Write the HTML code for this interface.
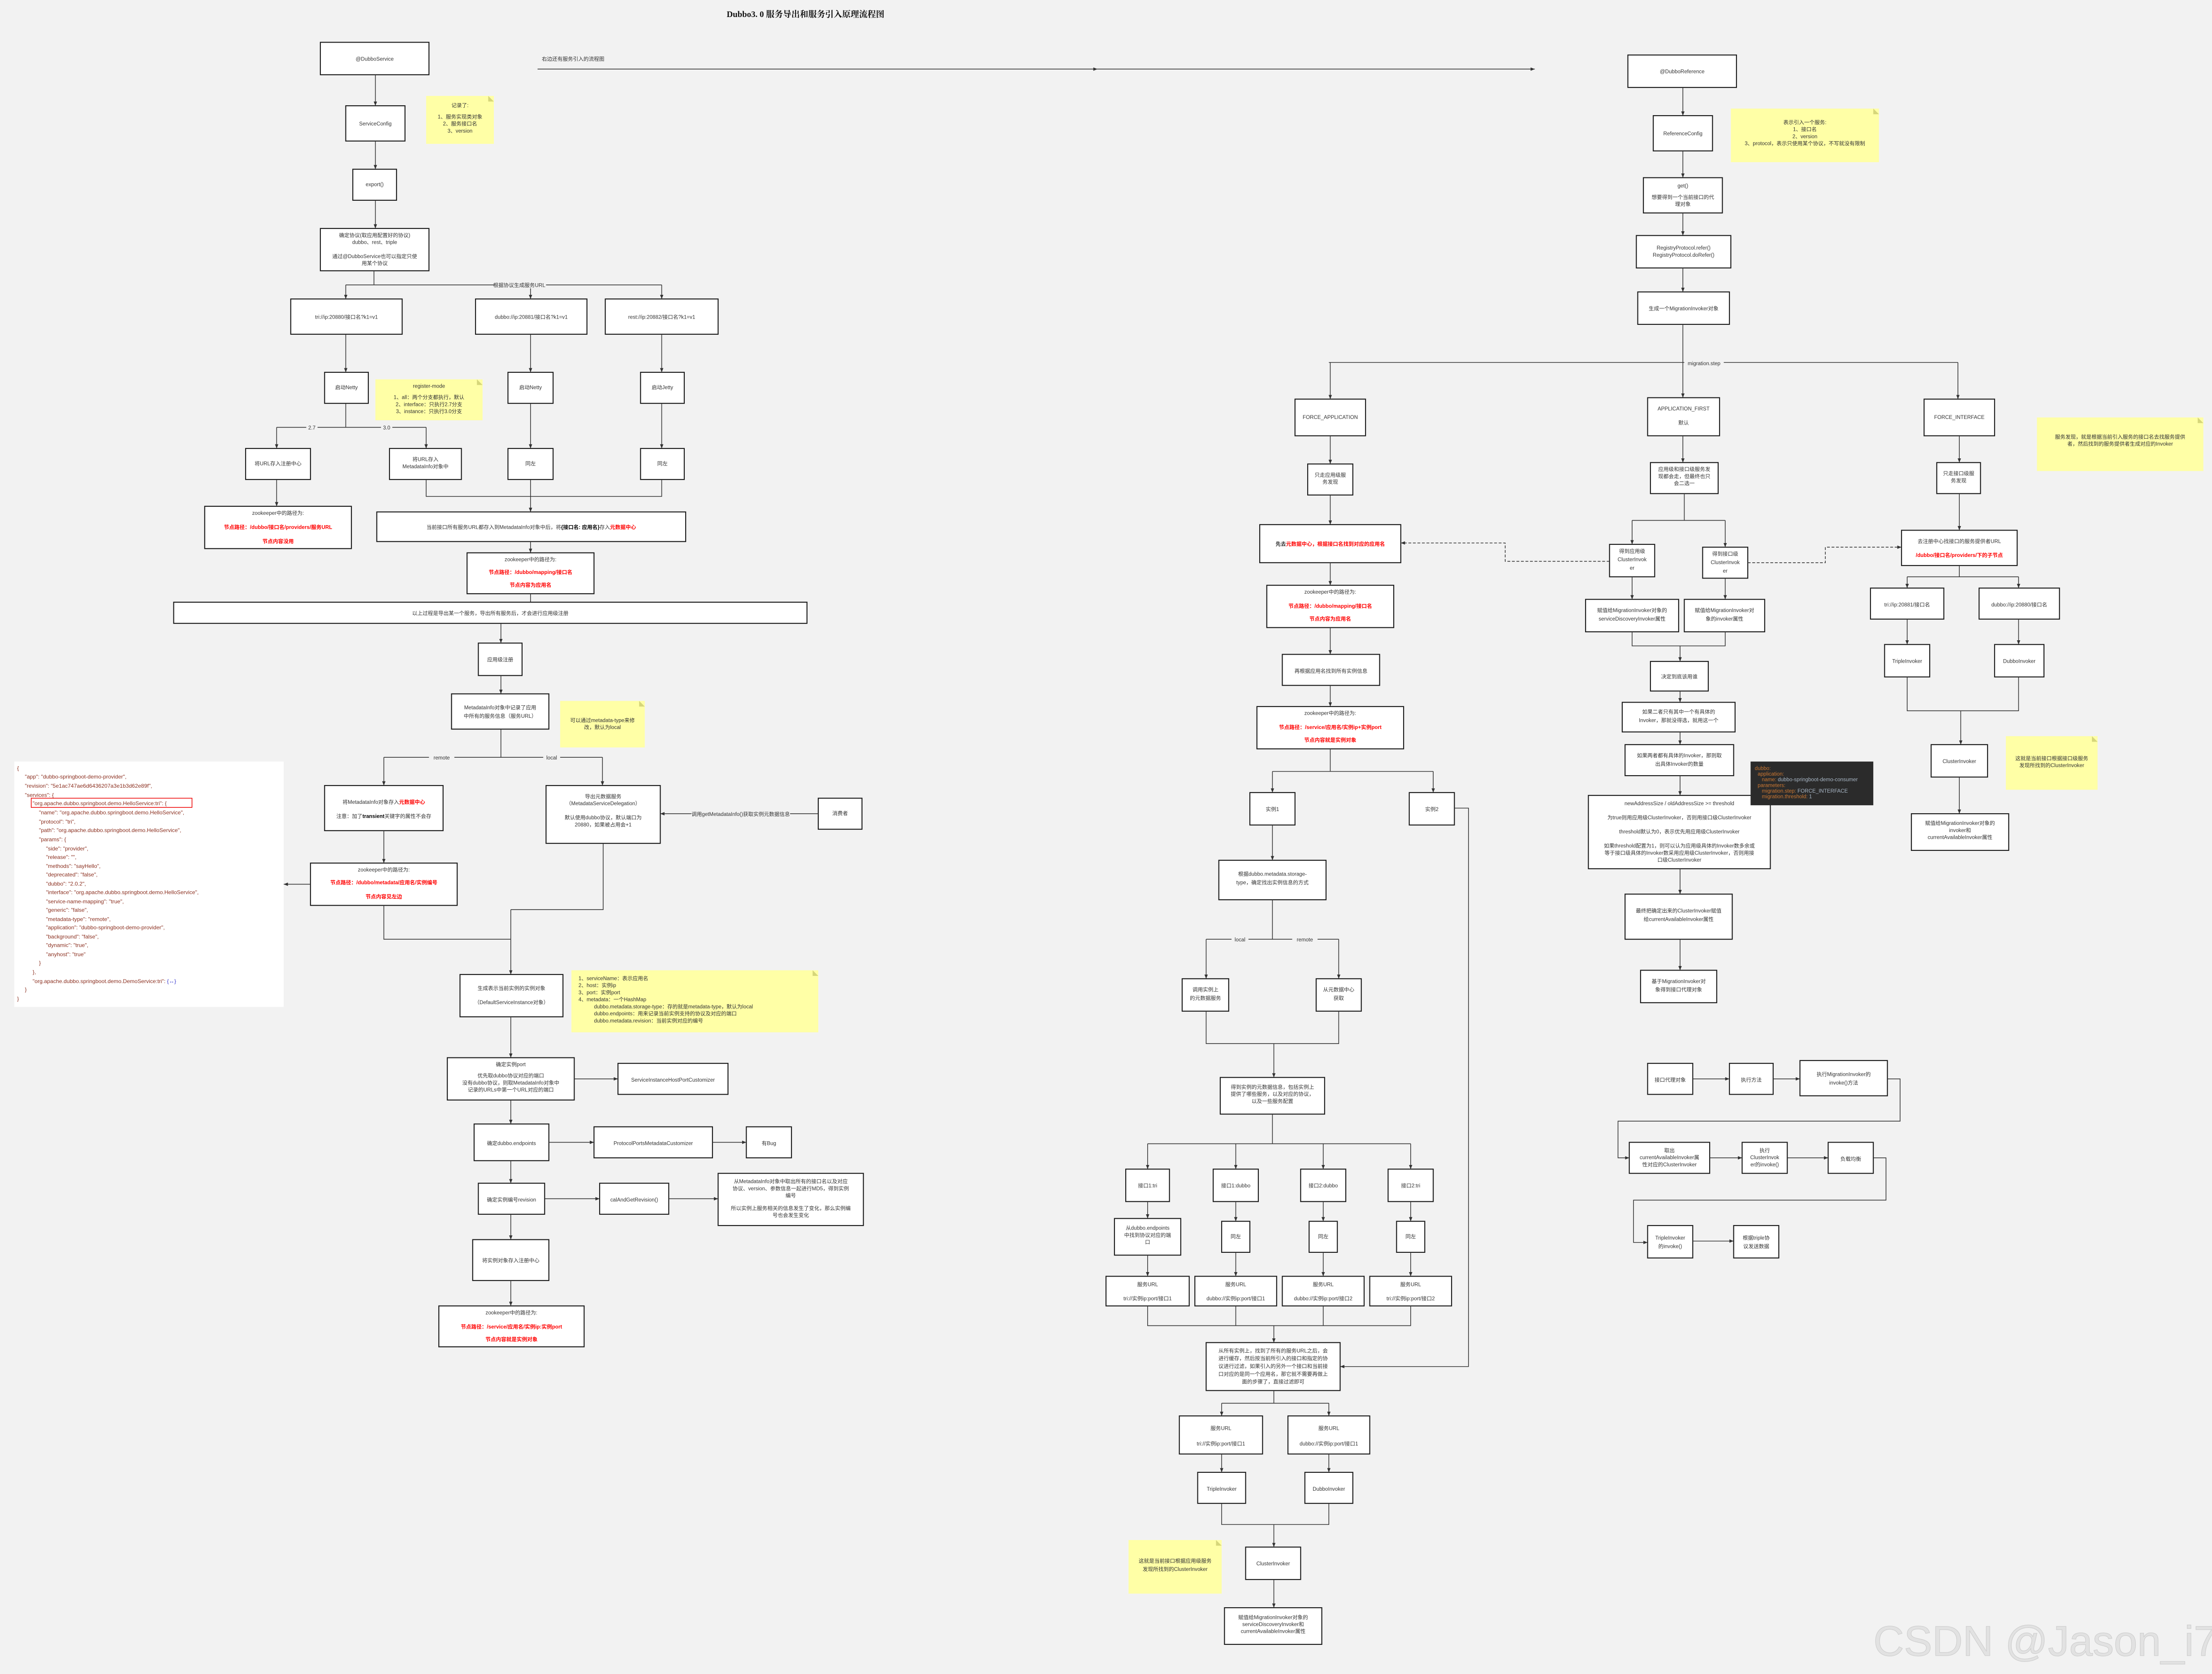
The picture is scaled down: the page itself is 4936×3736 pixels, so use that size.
<!DOCTYPE html>
<html><head><meta charset="utf-8"><style>
html,body{margin:0;padding:0;background:#f2f2f2;}
svg{display:block}
.b{fill:#fff;stroke:#1a1a1a;stroke-width:.7}
.n{fill:#ffffa6}
.l{fill:none;stroke:#333;stroke-width:.5}
.d{fill:none;stroke:#333;stroke-width:.5;stroke-dasharray:2,1.2}
.a{marker-end:url(#m)}
text{font-family:"Liberation Sans","Noto Sans CJK SC",sans-serif;font-size:3.7px;fill:#333;text-anchor:middle}
.r{fill:#f00;font-weight:bold}
.s{text-anchor:start}
.j{font-size:3.9px;fill:#8b2f1f;text-anchor:start}
.lb{fill:#f2f2f2}
</style></head><body>
<svg width="4936" height="3736" viewBox="0 0 1568 1187" xmlns="http://www.w3.org/2000/svg">
<defs><marker id="m" viewBox="0 0 10 10" refX="10" refY="5" markerWidth="3" markerHeight="3" markerUnits="userSpaceOnUse" orient="auto"><path d="M0,1L10,5L0,9z" fill="#333"/></marker></defs>
<rect x="0" y="0" width="1568" height="1187" fill="#f2f2f2"/>

<text x="571" y="12" style="font-family:'Liberation Serif','Noto Serif CJK SC',serif;font-size:6px;font-weight:bold;fill:#111">Dubbo3. 0  服务导出和服务引入原理流程图</text>
<text x="384" y="43" class="s">右边还有服务引入的流程图</text>
<path class="l a" d="M381,49L778,49"/><path class="l a" d="M778,49L1088,49"/>

<!-- LEFT EXPORT FLOW -->
<rect class="b" x="227" y="30" width="77" height="23"/><text x="265.5" y="43">@DubboService</text>
<path class="l a" d="M266,53L266,75"/>
<rect class="b" x="245" y="75" width="42" height="25"/><text x="266" y="89">ServiceConfig</text>
<rect class="n" x="302" y="68" width="48" height="34"/><path d="M346,68L350,72L346,72z" fill="#d6d67a"/>
<text x="326" y="76">记录了:</text><text x="326" y="84">1、服务实现类对象</text><text x="326" y="89">2、服务接口名</text><text x="326" y="94">3、version</text>
<path class="l a" d="M266,100L266,120"/>
<rect class="b" x="250" y="120" width="31" height="22"/><text x="265.5" y="132">export()</text>
<path class="l a" d="M266,142L266,162"/>
<rect class="b" x="227" y="162" width="77" height="30"/>
<text x="265.5" y="168">确定协议(取应用配置好的协议)</text><text x="265.5" y="173">dubbo、rest、triple</text><text x="265.5" y="183">通过@DubboService也可以指定只使</text><text x="265.5" y="188">用某个协议</text>
<path class="l" d="M265,192L265,202M245,202L469,202"/>
<path class="l a" d="M245,202L245,212"/><path class="l a" d="M376,202L376,212"/><path class="l a" d="M469,202L469,212"/>
<rect class="lb" x="350" y="199.5" width="37" height="5"/><text x="368" y="203.5">根据协议生成服务URL</text>
<rect class="b" x="206" y="212" width="79" height="25"/><text x="245.5" y="226">tri://ip:20880/接口名?k1=v1</text>
<rect class="b" x="337" y="212" width="79" height="25"/><text x="376.5" y="226">dubbo://ip:20881/接口名?k1=v1</text>
<rect class="b" x="429" y="212" width="80" height="25"/><text x="469" y="226">rest://ip:20882/接口名?k1=v1</text>
<path class="l a" d="M245,237L245,264"/><path class="l a" d="M376,237L376,264"/><path class="l a" d="M469,237L469,264"/>
<rect class="b" x="230" y="264" width="31" height="22"/><text x="245.5" y="276">启动Netty</text>
<rect class="n" x="266" y="269" width="76" height="29"/><path d="M338,269L342,273L338,273z" fill="#d6d67a"/>
<text x="304" y="275">register-mode</text><text x="304" y="283">1、all：两个分支都执行，默认</text><text x="304" y="288">2、interface：只执行2.7分支</text><text x="304" y="293">3、instance：只执行3.0分支</text>
<rect class="b" x="360" y="264" width="32" height="22"/><text x="376" y="276">启动Netty</text>
<rect class="b" x="454" y="264" width="31" height="22"/><text x="469.5" y="276">启动Jetty</text>
<path class="l" d="M245,286L245,303M196,303L302,303"/>
<path class="l a" d="M196,303L196,318"/><path class="l a" d="M302,303L302,318"/>
<rect class="lb" x="217" y="300.5" width="8" height="5"/><text x="221" y="304.5">2.7</text>
<rect class="lb" x="270" y="300.5" width="8" height="5"/><text x="274" y="304.5">3.0</text>
<path class="l a" d="M376,286L376,318"/><path class="l a" d="M469,286L469,318"/>
<rect class="b" x="174" y="318" width="46" height="22"/><text x="197" y="330">将URL存入注册中心</text>
<rect class="b" x="276" y="318" width="51" height="22"/><text x="301.5" y="327">将URL存入</text><text x="301.5" y="332">MetadataInfo对象中</text>
<rect class="b" x="360" y="318" width="32" height="22"/><text x="376" y="330">同左</text>
<rect class="b" x="454" y="318" width="31" height="22"/><text x="469.5" y="330">同左</text>
<path class="l a" d="M196,340L196,359"/>
<rect class="b" x="145" y="359" width="104" height="30"/>
<text x="197" y="365">zookeeper中的路径为:</text><text x="197" y="375" class="r">节点路径：/dubbo/接口名/providers/服务URL</text><text x="197" y="385" class="r">节点内容没用</text>
<path class="l" d="M302,340L302,352L469,352L469,340"/><path class="l a" d="M376,340L376,363"/>
<rect class="b" x="267" y="363" width="219" height="21"/>
<text x="376.5" y="375">当前接口所有服务URL都存入到MetadataInfo对象中后，将<tspan style="font-weight:bold;fill:#000">{接口名: 应用名}</tspan>存入<tspan class="r">元数据中心</tspan></text>
<path class="l a" d="M376,384L376,392"/>
<rect class="b" x="331" y="392" width="90" height="29"/>
<text x="376" y="398">zookeeper中的路径为:</text><text x="376" y="407" class="r">节点路径：/dubbo/mapping/接口名</text><text x="376" y="416" class="r">节点内容为应用名</text>
<path class="l" d="M376,421L376,427"/>
<rect class="b" x="123" y="427" width="449" height="15"/><text x="347.5" y="436">以上过程是导出某一个服务，导出所有服务后，才会进行应用级注册</text>
<path class="l a" d="M355,442L355,456"/>
<rect class="b" x="339" y="456" width="31" height="23"/><text x="354.5" y="469">应用级注册</text>
<path class="l a" d="M355,479L355,492"/>
<rect class="b" x="320" y="492" width="69" height="25"/><text x="354.5" y="503">MetadataInfo对象中记录了应用</text><text x="354.5" y="509">中所有的服务信息（服务URL）</text>
<rect class="n" x="397" y="497" width="60" height="33"/><path d="M453,497L457,501L453,501z" fill="#d6d67a"/>
<text x="427" y="512">可以通过metadata-type来修</text><text x="427" y="517">改，默认为local</text>
<path class="l" d="M355,517L355,537M272,537L427,537"/>
<path class="l a" d="M272,537L272,557"/><path class="l a" d="M427,537L427,557"/>
<rect class="lb" x="304" y="534.5" width="18" height="5"/><text x="313" y="538.5">remote</text>
<rect class="lb" x="385" y="534.5" width="12" height="5"/><text x="391" y="538.5">local</text>
<rect class="b" x="230" y="557" width="84" height="32"/>
<text x="272" y="570">将MetadataInfo对象存入<tspan class="r">元数据中心</tspan></text><text x="272" y="580">注意：加了<tspan style="font-weight:bold;fill:#000">transient</tspan>关键字的属性不会存</text>
<rect class="b" x="387" y="557" width="81" height="41"/>
<text x="427.5" y="566">导出元数据服务</text><text x="427.5" y="571">（MetadataServiceDelegation）</text><text x="427.5" y="581">默认使用dubbo协议，默认端口为</text><text x="427.5" y="586">20880，如果被占用会+1</text>
<rect class="b" x="580" y="566" width="31" height="22"/><text x="595.5" y="578">消费者</text>
<path class="l a" d="M580,577L468,577"/>
<rect class="lb" x="490" y="574.5" width="70" height="5"/><text x="525" y="578.5">调用getMetadataInfo()获取实例元数据信息</text>
<path class="l a" d="M272,589L272,612"/>
<rect class="b" x="220" y="612" width="104" height="30"/>
<text x="272" y="618">zookeeper中的路径为:</text><text x="272" y="627" class="r">节点路径：/dubbo/metadata/应用名/实例编号</text><text x="272" y="637" class="r">节点内容见左边</text>
<path class="l a" d="M220,627L201,627"/>
<path class="l" d="M272,642L272,666L362,666M427.5,598L427.5,645L362,645"/><path class="l a" d="M362,645L362,691"/>

<!-- JSON panel -->
<rect x="10" y="540" width="191" height="174" fill="#fff"/>
<rect x="22" y="566" width="114" height="6.5" fill="none" stroke="#e00" stroke-width=".5"/>
<text class="j" x="12" y="546">{</text>
<text class="j" x="17.5" y="552">"app": "dubbo-springboot-demo-provider",</text>
<text class="j" x="17.5" y="558.5">"revision": "5e1ac747ae6d6436207a3e1b3d62e89f",</text>
<text class="j" x="17.5" y="565">"services": {</text>
<text class="j" x="23" y="571">"org.apache.dubbo.springboot.demo.HelloService:tri": {</text>
<text class="j" x="27.5" y="577.5">"name": "org.apache.dubbo.springboot.demo.HelloService",</text>
<text class="j" x="27.5" y="584">"protocol": "tri",</text>
<text class="j" x="27.5" y="590">"path": "org.apache.dubbo.springboot.demo.HelloService",</text>
<text class="j" x="27.5" y="596.5">"params": {</text>
<text class="j" x="32.5" y="603">"side": "provider",</text>
<text class="j" x="32.5" y="609">"release": "",</text>
<text class="j" x="32.5" y="615.5">"methods": "sayHello",</text>
<text class="j" x="32.5" y="621.5">"deprecated": "false",</text>
<text class="j" x="32.5" y="628">"dubbo": "2.0.2",</text>
<text class="j" x="32.5" y="634">"interface": "org.apache.dubbo.springboot.demo.HelloService",</text>
<text class="j" x="32.5" y="640.5">"service-name-mapping": "true",</text>
<text class="j" x="32.5" y="646.5">"generic": "false",</text>
<text class="j" x="32.5" y="653">"metadata-type": "remote",</text>
<text class="j" x="32.5" y="659">"application": "dubbo-springboot-demo-provider",</text>
<text class="j" x="32.5" y="665.5">"background": "false",</text>
<text class="j" x="32.5" y="671.5">"dynamic": "true",</text>
<text class="j" x="32.5" y="678">"anyhost": "true"</text>
<text class="j" x="27.5" y="684">}</text>
<text class="j" x="23" y="690.5">},</text>
<text class="j" x="23" y="697">"org.apache.dubbo.springboot.demo.DemoService:tri": <tspan fill="#33c">{↔}</tspan></text>
<text class="j" x="17.5" y="703">}</text>
<text class="j" x="12" y="709.5">}</text>

<rect class="b" x="326" y="691" width="73" height="30"/><text x="362.5" y="702">生成表示当前实例的实例对象</text><text x="362.5" y="712">（DefaultServiceInstance对象）</text>
<rect class="n" x="405" y="688" width="175" height="44"/><path d="M576,688L580,692L576,692z" fill="#d6d67a"/>
<text class="s" x="410" y="695">1、serviceName：表示应用名</text><text class="s" x="410" y="700">2、host：实例ip</text><text class="s" x="410" y="705">3、port：实例port</text><text class="s" x="410" y="710">4、metadata：一个HashMap</text>
<text class="s" x="421" y="715">dubbo.metadata.storage-type：存的就是metadata-type，默认为local</text><text class="s" x="421" y="720">dubbo.endpoints：用来记录当前实例支持的协议及对应的端口</text><text class="s" x="421" y="725">dubbo.metadata.revision：当前实例对应的编号</text>
<path class="l a" d="M362,721L362,750"/>
<rect class="b" x="317" y="750" width="90" height="30"/>
<text x="362" y="756">确定实例port</text><text x="362" y="764">优先取dubbo协议对应的端口</text><text x="362" y="769">没有dubbo协议，则取MetadataInfo对象中</text><text x="362" y="774">记录的URLs中第一个URL对应的端口</text>
<path class="l a" d="M407,765L438,765"/>
<rect class="b" x="438" y="754" width="78" height="22"/><text x="477" y="767">ServiceInstanceHostPortCustomizer</text>
<path class="l a" d="M362,780L362,797"/>
<rect class="b" x="336" y="797" width="53" height="26"/><text x="362.5" y="812">确定dubbo.endpoints</text>
<path class="l a" d="M389,810L421,810"/>
<rect class="b" x="421" y="799" width="84" height="22"/><text x="463" y="812">ProtocolPortsMetadataCustomizer</text>
<path class="l a" d="M505,810L529,810"/>
<rect class="b" x="529" y="799" width="32" height="22"/><text x="545" y="812">有Bug</text>
<path class="l a" d="M362,823L362,839"/>
<rect class="b" x="339" y="839" width="47" height="22"/><text x="362.5" y="852">确定实例编号revision</text>
<path class="l a" d="M386,850L425,850"/>
<rect class="b" x="425" y="839" width="49" height="22"/><text x="449.5" y="852">calAndGetRevision()</text>
<path class="l a" d="M474,850L509,850"/>
<rect class="b" x="509" y="832" width="103" height="37"/>
<text x="560.5" y="839">从MetadataInfo对象中取出所有的接口名以及对应</text><text x="560.5" y="844">协议、version、参数信息一起进行MD5，得到实例</text><text x="560.5" y="849">编号</text><text x="560.5" y="858">所以实例上服务相关的信息发生了变化，那么实例编</text><text x="560.5" y="863">号也会发生变化</text>
<path class="l a" d="M362,861L362,879"/>
<rect class="b" x="335" y="879" width="54" height="29"/><text x="362" y="895">将实例对象存入注册中心</text>
<path class="l a" d="M362,908L362,926"/>
<rect class="b" x="311" y="926" width="103" height="29"/>
<text x="362.5" y="932">zookeeper中的路径为:</text><text x="362.5" y="942" class="r">节点路径：/service/应用名/实例ip:实例port</text><text x="362.5" y="951" class="r">节点内容就是实例对象</text>

<!-- RIGHT REFERENCE FLOW -->
<rect class="b" x="1154" y="39" width="77" height="23"/><text x="1192.5" y="52">@DubboReference</text>
<path class="l a" d="M1193,62L1193,82"/>
<rect class="b" x="1172" y="82" width="42" height="25"/><text x="1193" y="96">ReferenceConfig</text>
<rect class="n" x="1227" y="77" width="105" height="38"/><path d="M1328,77L1332,81L1328,81z" fill="#d6d67a"/>
<text x="1279.5" y="88">表示引入一个服务:</text><text x="1279.5" y="93">1、接口名</text><text x="1279.5" y="98">2、version</text><text x="1279.5" y="103">3、protocol，表示只使用某个协议，不写就没有限制</text>
<path class="l a" d="M1193,107L1193,126"/>
<rect class="b" x="1165" y="126" width="56" height="25"/><text x="1193" y="133">get()</text><text x="1193" y="141">想要得到一个当前接口的代</text><text x="1193" y="146">理对象</text>
<path class="l a" d="M1193,151L1193,167"/>
<rect class="b" x="1160" y="167" width="67" height="23"/><text x="1193.5" y="177">RegistryProtocol.refer()</text><text x="1193.5" y="182">RegistryProtocol.doRefer()</text>
<path class="l a" d="M1193,190L1193,207"/>
<rect class="b" x="1161" y="207" width="65" height="23"/><text x="1193.5" y="220">生成一个MigrationInvoker对象</text>
<path class="l a" d="M1193,230L1193,282"/><path class="l" d="M942,257L1388,257"/>
<path class="l a" d="M943,257L943,283"/><path class="l a" d="M1388,257L1388,283"/>
<rect class="lb" x="1194" y="255.5" width="28" height="5"/><text x="1208" y="259">migration.step</text>
<rect class="b" x="918" y="283" width="50" height="26"/><text x="943" y="297">FORCE_APPLICATION</text>
<rect class="b" x="1168" y="282" width="51" height="27"/><text x="1193.5" y="291">APPLICATION_FIRST</text><text x="1193.5" y="301">默认</text>
<rect class="b" x="1364" y="283" width="50" height="26"/><text x="1389" y="297">FORCE_INTERFACE</text>
<rect class="n" x="1444" y="296" width="118" height="38"/><path d="M1558,296L1562,300L1558,300z" fill="#d6d67a"/>
<text x="1503" y="311">服务发现，就是根据当前引入服务的接口名去找服务提供</text><text x="1503" y="316">者，然后找到的服务提供者生成对应的Invoker</text>
<path class="l a" d="M943,309L943,329"/>
<rect class="b" x="927" y="329" width="32" height="22"/><text x="943" y="338">只走应用级服</text><text x="943" y="343">务发现</text>
<path class="l a" d="M1193,309L1193,328"/>
<rect class="b" x="1170" y="328" width="48" height="22"/><text x="1194" y="334">应用级和接口级服务发</text><text x="1194" y="339">现都会走，但最终也只</text><text x="1194" y="344">会二选一</text>
<path class="l a" d="M1389,309L1389,328"/>
<rect class="b" x="1373" y="328" width="31" height="22"/><text x="1388.5" y="337">只走接口级服</text><text x="1388.5" y="342">务发现</text>
<path class="l a" d="M943,351L943,372"/>
<rect class="b" x="893" y="372" width="100" height="27"/><text x="943" y="387" class="r"><tspan fill="#333">先去</tspan>元数据中心，根据接口名找到对应的应用名</text>
<path class="l" d="M1194,350L1194,369M1157,369L1223,369"/>
<path class="l a" d="M1157,369L1157,386"/><path class="l a" d="M1223,369L1223,388"/>
<rect class="b" x="1141" y="386" width="32" height="23"/><text x="1157" y="392">得到应用级</text><text x="1157" y="398">ClusterInvok</text><text x="1157" y="404">er</text>
<rect class="b" x="1207" y="388" width="32" height="22"/><text x="1223" y="394">得到接口级</text><text x="1223" y="400">ClusterInvok</text><text x="1223" y="406">er</text>
<path class="d a" d="M1141,398L1067,398L1067,385L993,385"/>
<path class="d a" d="M1239,399L1294,399L1294,388L1348,388"/>
<path class="l a" d="M1389,350L1389,376"/>
<rect class="b" x="1348" y="376" width="82" height="25"/><text x="1389" y="385">去注册中心找接口的服务提供者URL</text><text x="1389" y="395" class="r">/dubbo/接口名/providers/下的子节点</text>
<path class="l a" d="M943,399L943,415"/>
<rect class="b" x="898" y="415" width="90" height="30"/><text x="943" y="421">zookeeper中的路径为:</text><text x="943" y="431" class="r">节点路径：/dubbo/mapping/接口名</text><text x="943" y="440" class="r">节点内容为应用名</text>
<path class="l a" d="M1157,409L1157,425"/><path class="l a" d="M1223,410L1223,425"/>
<rect class="b" x="1124" y="425" width="66" height="23"/><text x="1157" y="434">赋值给MigrationInvoker对象的</text><text x="1157" y="440">serviceDiscoveryInvoker属性</text>
<rect class="b" x="1194" y="425" width="57" height="23"/><text x="1222.5" y="434">赋值给MigrationInvoker对</text><text x="1222.5" y="440">象的invoker属性</text>
<path class="l" d="M1157,448L1157,458L1223,458L1223,448"/><path class="l a" d="M1191,458L1191,469"/>
<rect class="b" x="1170" y="469" width="41" height="21"/><text x="1190.5" y="481">决定到底该用谁</text>
<path class="l a" d="M1191,490L1191,498"/>
<rect class="b" x="1150" y="498" width="80" height="21"/><text x="1190" y="506">如果二者只有其中一个有具体的</text><text x="1190" y="512">Invoker，那就没得选，就用这一个</text>
<path class="l a" d="M1191,519L1191,528"/>
<rect class="b" x="1152" y="528" width="77" height="22"/><text x="1190.5" y="537">如果两者都有具体的Invoker，那则取</text><text x="1190.5" y="543">出具体Invoker的数量</text>
<path class="l a" d="M1191,550L1191,564"/>
<rect class="b" x="1126" y="564" width="129" height="52"/>
<text x="1190.5" y="571">newAddressSize / oldAddressSize &gt;= threshold</text>
<text x="1190.5" y="581">为true则用应用级ClusterInvoker，否则用接口级ClusterInvoker</text>
<text x="1190.5" y="591">threshold默认为0，表示优先用应用级ClusterInvoker</text>
<text x="1190.5" y="601">如果threshold配置为1，则可以认为应用级具体的Invoker数多余或</text>
<text x="1190.5" y="606">等于接口级具体的Invoker数采用应用级ClusterInvoker，否则用接</text>
<text x="1190.5" y="611">口级ClusterInvoker</text>
<rect x="1241" y="540" width="87" height="31" fill="#2b2b2b"/>
<g style="font-size:2px">
<text class="s" x="1244" y="546" fill="#cc7832" style="fill:#cc7832">dubbo:</text>
<text class="s" x="1246" y="550" style="fill:#cc7832">application:</text>
<text class="s" x="1249" y="554" style="fill:#cc7832">name: <tspan style="fill:#a9b7c6">dubbo-springboot-demo-consumer</tspan></text>
<text class="s" x="1246" y="558" style="fill:#cc7832">parameters:</text>
<text class="s" x="1249" y="562" style="fill:#cc7832">migration.step: <tspan style="fill:#a9b7c6">FORCE_INTERFACE</tspan></text>
<text class="s" x="1249" y="566" style="fill:#cc7832">migration.threshold: <tspan style="fill:#a9b7c6">1</tspan></text>
</g>
<path class="l a" d="M1191,616L1191,634"/>
<rect class="b" x="1152" y="634" width="76" height="32"/><text x="1190" y="647">最终把确定出来的ClusterInvoker赋值</text><text x="1190" y="653">给currentAvailableInvoker属性</text>
<path class="l a" d="M1191,666L1191,688"/>
<rect class="b" x="1163" y="688" width="54" height="23"/><text x="1190" y="697">基于MigrationInvoker对</text><text x="1190" y="703">象得到接口代理对象</text>

<path class="l" d="M1389,401L1389,409M1352,409L1431,409"/>
<path class="l a" d="M1352,409L1352,417"/><path class="l a" d="M1431,409L1431,417"/>
<rect class="b" x="1326" y="417" width="52" height="22"/><text x="1352" y="430">tri://ip:20881/接口名</text>
<rect class="b" x="1403" y="417" width="57" height="22"/><text x="1431.5" y="430">dubbo://ip:20880/接口名</text>
<path class="l a" d="M1352,439L1352,457"/><path class="l a" d="M1431,439L1431,457"/>
<rect class="b" x="1336" y="457" width="32" height="23"/><text x="1352" y="470">TripleInvoker</text>
<rect class="b" x="1414" y="457" width="35" height="23"/><text x="1431.5" y="470">DubboInvoker</text>
<path class="l" d="M1352,480L1352,504L1431,504L1431,480"/><path class="l a" d="M1390,504L1390,528"/>
<rect class="b" x="1369" y="528" width="40" height="23"/><text x="1389" y="541">ClusterInvoker</text>
<rect class="n" x="1422" y="522" width="65" height="38"/><path d="M1483,522L1487,526L1483,526z" fill="#d6d67a"/>
<text x="1454.5" y="539">这就是当前接口根据接口级服务</text><text x="1454.5" y="544">发现所找到的ClusterInvoker</text>
<path class="l a" d="M1389,551L1389,577"/>
<rect class="b" x="1355" y="577" width="69" height="26"/><text x="1389.5" y="585">赋值给MigrationInvoker对象的</text><text x="1389.5" y="590">invoker和</text><text x="1389.5" y="595">currentAvailableInvoker属性</text>

<!-- middle application-level discovery -->
<path class="l a" d="M943,445L943,464"/>
<rect class="b" x="909" y="464" width="69" height="22"/><text x="943.5" y="477">再根据应用名找到所有实例信息</text>
<path class="l a" d="M943,486L943,501"/>
<rect class="b" x="891" y="501" width="104" height="30"/><text x="943" y="507">zookeeper中的路径为:</text><text x="943" y="517" class="r">节点路径：/service/应用名/实例ip+实例port</text><text x="943" y="526" class="r">节点内容就是实例对象</text>
<path class="l" d="M943,531L943,547M902,547L1016,547"/>
<path class="l a" d="M902,547L902,562"/><path class="l a" d="M1016,547L1016,562"/>
<rect class="b" x="886" y="562" width="32" height="23"/><text x="902" y="575">实例1</text>
<rect class="b" x="999" y="562" width="32" height="23"/><text x="1015" y="575">实例2</text>
<path class="l a" d="M1031,573L1041,573L1041,969L950,969"/>
<path class="l a" d="M902,585L902,610"/>
<rect class="b" x="864" y="610" width="76" height="28"/><text x="902" y="621">根据dubbo.metadata.storage-</text><text x="902" y="627">type，确定找出实例信息的方式</text>
<path class="l" d="M902,638L902,666M855,666L949,666"/>
<path class="l a" d="M855,666L855,694"/><path class="l a" d="M949,666L949,694"/>
<rect class="lb" x="873" y="663.5" width="12" height="5"/><text x="879" y="667.5">local</text>
<rect class="lb" x="916" y="663.5" width="18" height="5"/><text x="925" y="667.5">remote</text>
<rect class="b" x="838" y="694" width="33" height="23"/><text x="854.5" y="703">调用实例上</text><text x="854.5" y="709">的元数据服务</text>
<rect class="b" x="933" y="694" width="32" height="23"/><text x="949" y="703">从元数据中心</text><text x="949" y="709">获取</text>
<path class="l" d="M855,717L855,740L949,740L949,717"/><path class="l a" d="M903,740L903,764"/>
<rect class="b" x="865" y="764" width="74" height="26"/><text x="902" y="772">得到实例的元数据信息，包括实例上</text><text x="902" y="777">提供了哪些服务，以及对应的协议，</text><text x="902" y="782">以及一些服务配置</text>
<path class="l" d="M902,790L902,811M813.5,811L1000,811"/>
<path class="l a" d="M813.5,811L813.5,829"/><path class="l a" d="M876,811L876,829"/><path class="l a" d="M938,811L938,829"/><path class="l a" d="M1000,811L1000,829"/>
<rect class="b" x="798" y="829" width="31" height="23"/><text x="813.5" y="842">接口1:tri</text>
<rect class="b" x="860" y="829" width="32" height="23"/><text x="876" y="842">接口1:dubbo</text>
<rect class="b" x="922" y="829" width="32" height="23"/><text x="938" y="842">接口2:dubbo</text>
<rect class="b" x="984" y="829" width="32" height="23"/><text x="1000" y="842">接口2:tri</text>
<path class="l a" d="M813.5,852L813.5,864"/><path class="l a" d="M876,852L876,866"/><path class="l a" d="M938,852L938,866"/><path class="l a" d="M1000,852L1000,866"/>
<rect class="b" x="790" y="864" width="47" height="26"/><text x="813.5" y="872">从dubbo.endpoints</text><text x="813.5" y="877">中找到协议对应的端</text><text x="813.5" y="882">口</text>
<rect class="b" x="866" y="866" width="20" height="22"/><text x="876" y="878">同左</text>
<rect class="b" x="928" y="866" width="20" height="22"/><text x="938" y="878">同左</text>
<rect class="b" x="990" y="866" width="20" height="22"/><text x="1000" y="878">同左</text>
<path class="l a" d="M813.5,890L813.5,905"/><path class="l a" d="M876,888L876,905"/><path class="l a" d="M938,888L938,905"/><path class="l a" d="M1000,888L1000,905"/>
<rect class="b" x="784" y="905" width="59" height="21"/><text x="813.5" y="912">服务URL</text><text x="813.5" y="922">tri://实例ip:port/接口1</text>
<rect class="b" x="847" y="905" width="58" height="21"/><text x="876" y="912">服务URL</text><text x="876" y="922">dubbo://实例ip:port/接口1</text>
<rect class="b" x="909" y="905" width="58" height="21"/><text x="938" y="912">服务URL</text><text x="938" y="922">dubbo://实例ip:port/接口2</text>
<rect class="b" x="971" y="905" width="58" height="21"/><text x="1000" y="912">服务URL</text><text x="1000" y="922">tri://实例ip:port/接口2</text>
<path class="l" d="M813.5,926L813.5,940L1000,940L1000,926M876,926L876,940M938,926L938,940"/><path class="l a" d="M903,940L903,952"/>
<rect class="b" x="855" y="952" width="95" height="34"/>
<text x="902.5" y="959">从所有实例上，找到了所有的服务URL之后，会</text><text x="902.5" y="964.5">进行缓存，然后按当前所引入的接口和指定的协</text><text x="902.5" y="970">议进行过滤，如果引入的另外一个接口和当前接</text><text x="902.5" y="975.5">口对应的是同一个应用名，那它就不需要再做上</text><text x="902.5" y="981">面的步骤了，直接过滤即可</text>
<path class="l" d="M903,986L903,995M866,995L942,995"/>
<path class="l a" d="M866,995L866,1004"/><path class="l a" d="M942,995L942,1004"/>
<rect class="b" x="836" y="1004" width="59" height="27"/><text x="865.5" y="1014">服务URL</text><text x="865.5" y="1025">tri://实例ip:port/接口1</text>
<rect class="b" x="913" y="1004" width="58" height="27"/><text x="942" y="1014">服务URL</text><text x="942" y="1025">dubbo://实例ip:port/接口1</text>
<path class="l a" d="M866,1031L866,1044"/><path class="l a" d="M942,1031L942,1044"/>
<rect class="b" x="849" y="1044" width="34" height="22"/><text x="866" y="1057">TripleInvoker</text>
<rect class="b" x="925" y="1044" width="34" height="22"/><text x="942" y="1057">DubboInvoker</text>
<path class="l" d="M866,1066L866,1081L942,1081L942,1066"/><path class="l a" d="M903,1081L903,1097"/>
<rect class="b" x="883" y="1097" width="39" height="23"/><text x="902.5" y="1110">ClusterInvoker</text>
<rect class="n" x="800" y="1092" width="66" height="38"/><path d="M862,1092L866,1096L862,1096z" fill="#d6d67a"/>
<text x="833" y="1108">这就是当前接口根据应用级服务</text><text x="833" y="1114">发现所找到的ClusterInvoker</text>
<path class="l a" d="M903,1120L903,1140"/>
<rect class="b" x="868" y="1140" width="69" height="26"/><text x="902.5" y="1148">赋值给MigrationInvoker对象的</text><text x="902.5" y="1153">serviceDiscoveryInvoker和</text><text x="902.5" y="1158">currentAvailableInvoker属性</text>

<!-- invoke chain -->
<rect class="b" x="1168" y="754" width="32" height="22"/><text x="1184" y="767">接口代理对象</text>
<path class="l a" d="M1200,765L1226,765"/>
<rect class="b" x="1226" y="754" width="31" height="22"/><text x="1241.5" y="767">执行方法</text>
<path class="l a" d="M1257,765L1276,765"/>
<rect class="b" x="1276" y="752" width="62" height="25"/><text x="1307" y="763">执行MigrationInvoker的</text><text x="1307" y="769">invoke()方法</text>
<path class="l a" d="M1338,765L1347,765L1347,795L1147,795L1147,821L1155,821"/>
<rect class="b" x="1155" y="810" width="57" height="22"/><text x="1183.5" y="817">取出</text><text x="1183.5" y="822">currentAvailableInvoker属</text><text x="1183.5" y="827">性对应的ClusterInvoker</text>
<path class="l a" d="M1212,821L1235,821"/>
<rect class="b" x="1235" y="810" width="32" height="22"/><text x="1251" y="817">执行</text><text x="1251" y="822">ClusterInvok</text><text x="1251" y="827">er的invoke()</text>
<path class="l a" d="M1267,821L1296,821"/>
<rect class="b" x="1296" y="810" width="32" height="22"/><text x="1312" y="823">负载均衡</text>
<path class="l a" d="M1328,821L1337,821L1337,851L1158,851L1158,881L1168,881"/>
<rect class="b" x="1168" y="869" width="32" height="23"/><text x="1184" y="879">TripleInvoker</text><text x="1184" y="885">的invoke()</text>
<path class="l a" d="M1200,880L1229,880"/>
<rect class="b" x="1229" y="869" width="32" height="23"/><text x="1245" y="879">根据triple协</text><text x="1245" y="885">议发送数据</text>

<text x="1450" y="1174" style="font-size:30px;fill:#e2e2e2;stroke:#cfcfcf;stroke-width:.4">CSDN @Jason_i7</text>
</svg>
</body></html>
